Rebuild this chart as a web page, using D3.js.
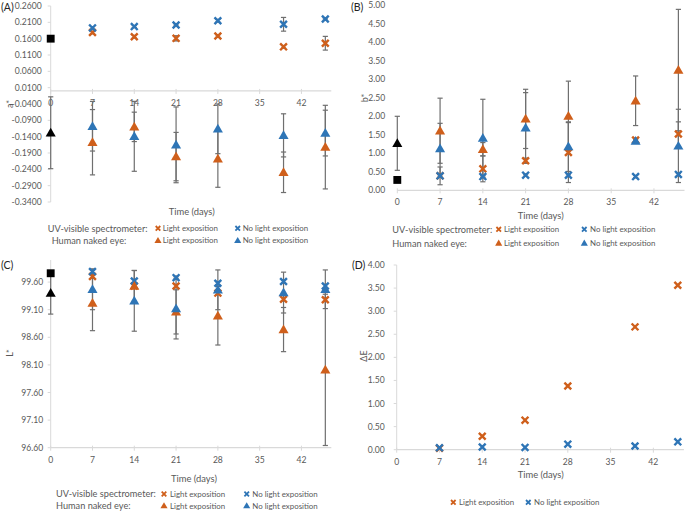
<!DOCTYPE html>
<html><head><meta charset="utf-8">
<script src="https://cdn.jsdelivr.net/npm/d3@7"></script>
<style>body{margin:0;background:#fff}svg{display:block;font-family:Lato,"Open Sans",sans-serif}</style>
</head><body><svg id="c" width="685" height="511"></svg>
<script>
// ---------- data ----------
const days = [7, 14, 21, 28, 39, 46];
const xTicks = [0, 7, 14, 21, 28, 35, 42];

// Panel A (a*)
const aTicks = [0.26, 0.21, 0.16, 0.11, 0.06, 0.01, -0.04, -0.09, -0.14, -0.19, -0.24, -0.29, -0.34];
const aUvLight = [0.179, 0.166, 0.161, 0.168, 0.135, 0.146];
const aUvLightErr = [0.004, 0.004, 0.008, 0.004, 0.004, 0.021];
const aUvNoLight = [0.193, 0.197, 0.202, 0.215, 0.204, 0.220];
const aUvNoLightErr = [0.004, 0.003, 0.003, 0.004, 0.021, 0.003];
const aEyeLight = [-0.157, -0.110, -0.201, -0.208, -0.249, -0.172];
const aEyeLightErr = [0.100, 0.045, 0.074, 0.087, 0.062, 0.128];
const aEyeNoLight = [-0.108, -0.139, -0.165, -0.116, -0.136, -0.129];
const aEyeNoLightErr = [0.076, 0.107, 0.116, 0.076, 0.066, 0.070];
const aDay0 = {uv: 0.160, eye: -0.128, eyeErr: 0.11};

// Panel B (b*)
const bTicks = [0, 0.5, 1, 1.5, 2, 2.5, 3, 3.5, 4, 4.5, 5];
const bUvLight = [0.39, 0.58, 0.80, 1.02, 1.36, 1.52];
const bUvLightErr = [0.24, 0.35, 0.07, 0.81, 0.05, 0.33];
const bUvNoLight = [0.39, 0.37, 0.41, 0.41, 0.37, 0.43];
const bUvNoLightErr = [0.03, 0.03, 0.03, 0.03, 0.03, 0.03];
const bEyeLight = [1.61, 1.11, 1.93, 2.01, 2.42, 3.25];
const bEyeLightErr = [0.88, 0.18, 0.80, 0.94, 0.67, 1.64];
const bEyeNoLight = [1.13, 1.41, 1.69, 1.18, 1.33, 1.20];
const bEyeNoLightErr = [0.68, 1.05, 0.95, 0.67, 0.05, 0.99];
const bDay0 = {uv: 0.28, eye: 1.27, eyeErr: 0.73};

// Panel C (L*)
const cTicks = [96.6, 97.1, 97.6, 98.1, 98.6, 99.1, 99.6];
const cUvLight = [99.70, 99.53, 99.53, 99.40, 99.29, 99.28];
const cUvLightErr = [0.03, 0.03, 0.03, 0.03, 0.03, 0.03];
const cUvNoLight = [99.79, 99.62, 99.68, 99.58, 99.61, 99.53];
const cUvNoLightErr = [0.03, 0.03, 0.03, 0.03, 0.03, 0.03];
const cEyeLight = [99.22, 99.53, 99.06, 98.99, 98.74, 98.01];
const cEyeLightErr = [0.50, 0.28, 0.40, 0.53, 0.40, 1.37];
const cEyeNoLight = [99.47, 99.26, 99.12, 99.46, 99.41, 99.47];
const cEyeNoLightErr = [0.37, 0.55, 0.55, 0.36, 0.37, 0.35];
const cDay0 = {uv: 99.76, eye: 99.40, eyeErr: 0.38};

// Panel D (ΔE)
const dTicks = [0, 0.5, 1, 1.5, 2, 2.5, 3, 3.5, 4];
const dLight = [0.03, 0.29, 0.64, 1.38, 2.66, 3.56];
const dNoLight = [0.04, 0.06, 0.05, 0.12, 0.08, 0.17];

// ---------- style ----------
const ORANGE = "#CF5F1B", BLUE = "#2E75B6", ERR = "#6f6f6f", AX = "#D9D9D9", TXT = "#595959";
const LEG_FS = 7.9, TITLE_FS = 9.2;

const svg = d3.select("#c");
svg.append("rect").attr("width", 685).attr("height", 511).attr("fill", "#fff");

function xMark(g, cx, cy, r, color, w) {
  g.append("path")
    .attr("d", `M${cx - r},${cy - r}L${cx + r},${cy + r}M${cx + r},${cy - r}L${cx - r},${cy + r}`)
    .attr("stroke", color).attr("stroke-width", w).attr("fill", "none");
}
function triMark(g, cx, cy, size, color) {
  g.append("path").attr("d", d3.symbol(d3.symbolTriangle, size)())
    .attr("transform", `translate(${cx},${cy + 0.8})`).attr("fill", color);
}
function errBar(g, x, y, xv, v, e) {
  const x0 = x(xv), y1 = y(v - e), y2 = y(v + e);
  g.append("line").attr("x1", x0).attr("x2", x0).attr("y1", y1).attr("y2", y2).attr("stroke", ERR).attr("stroke-width", 1.2);
  [y1, y2].forEach(yy => g.append("line").attr("x1", x0 - 2.6).attr("x2", x0 + 2.6).attr("y1", yy).attr("y2", yy).attr("stroke", ERR).attr("stroke-width", 1.2));
}

function panel(p) {
  const g = svg.append("g");
  const x = d3.scaleLinear().domain([0, 47]).range(p.xr);
  const y = d3.scaleLinear().domain(p.yd).range(p.yr);
  const fmt = v => d3.format(p.fmt)(v).replace("\u2212", "-");
  // y axis
  if (p.yLine) g.append("line").attr("x1", x(0)).attr("x2", x(0)).attr("y1", y(p.yd[1])).attr("y2", y(p.yd[0])).attr("stroke", AX).attr("stroke-width", 1);
  p.yTicks.forEach(t => {
    if (p.yLine) g.append("line").attr("x1", x(0) - 3).attr("x2", x(0)).attr("y1", y(t)).attr("y2", y(t)).attr("stroke", AX);
    g.append("text").attr("x", x(0) - p.yGap).attr("y", y(t)).attr("dy", "0.35em").attr("text-anchor", "end")
      .attr("font-size", 8.6).attr("fill", TXT).text(fmt(t));
  });
  // x axis
  const ax = y(p.xAt);
  g.append("line").attr("x1", x(0)).attr("x2", x(47)).attr("y1", ax).attr("y2", ax).attr("stroke", AX).attr("stroke-width", 1.2);
  xTicks.forEach(t => {
    g.append("line").attr("x1", x(t)).attr("x2", x(t)).attr("y1", ax - 2).attr("y2", ax + 3).attr("stroke", AX);
    g.append("text").attr("x", x(t)).attr("y", ax + 15).attr("text-anchor", "middle").attr("font-size", 8.6).attr("fill", TXT).text(t);
  });
  // titles
  g.append("text").attr("x", p.label[0]).attr("y", p.label[1]).attr("dy", "0.35em").attr("font-size", 10.5).attr("fill", "#222").text(p.name);
  g.append("text").attr("transform", `translate(${p.ytitle[0]},${p.ytitle[1]}) rotate(-90)`).attr("text-anchor", "middle").attr("dy", "0.35em")
    .attr("font-size", 9).attr("fill", TXT).text(p.yName);
  g.append("text").attr("x", p.xtitle[0]).attr("y", p.xtitle[1]).attr("dy", "0.35em").attr("text-anchor", "middle")
    .attr("font-size", 9.4).attr("fill", TXT).text("Time (days)");

  // error bars
  const series = p.series;
  if (p.day0) errBar(g, x, y, 0, p.day0.eye, p.day0.eyeErr);
  series.forEach(s => { if (s.err) s.vals.forEach((v, i) => errBar(g, x, y, days[i], v, s.err[i])); });
  // markers
  if (p.day0) {
    g.append("path").attr("d", d3.symbol(d3.symbolSquare, 62)()).attr("transform", `translate(${x(0)},${y(p.day0.uv)})`).attr("fill", "#000");
    triMark(g, x(0), y(p.day0.eye), 44, "#000");
  }
  series.forEach(s => s.vals.forEach((v, i) => {
    if (s.type === "x") xMark(g, x(days[i]), y(v), 3.4, s.color, 2.4);
    else triMark(g, x(days[i]), y(v), 44, s.color);
  }));

  // legend
  const L = p.legend;
  if (L.rows) {
    L.rows.forEach(r => {
      const ly = r.y;
      g.append("text").attr("x", r.tx).attr("y", ly).attr("dy", "0.35em").attr("font-size", TITLE_FS).attr("fill", TXT).text(r.title);
      r.items.forEach(it => {
        if (it.type === "x") xMark(g, it.mx, ly, 2.3, it.color, 1.8);
        else triMark(g, it.mx, ly - 0.5, 22, it.color);
        g.append("text").attr("x", it.tx).attr("y", ly).attr("dy", "0.35em").attr("font-size", LEG_FS).attr("fill", TXT).text(it.text);
      });
    });
  }
}

function legendRows(r1y, r2y, t1x, t2x, m1, t1, m2, t2) {
  return {rows: [
    {y: r1y, tx: t1x, title: "UV-visible spectrometer:", items: [
      {type: "x", color: ORANGE, mx: m1, tx: t1, text: "Light exposition"},
      {type: "x", color: BLUE, mx: m2, tx: t2, text: "No light exposition"}]},
    {y: r2y, tx: t2x, title: "Human naked eye:", items: [
      {type: "t", color: ORANGE, mx: m1, tx: t1, text: "Light exposition"},
      {type: "t", color: BLUE, mx: m2, tx: t2, text: "No light exposition"}]}
  ]};
}

function fourSeries(uvL, uvLE, uvN, uvNE, eyL, eyLE, eyN, eyNE) {
  return [
    {type: "x", color: ORANGE, vals: uvL, err: uvLE},
    {type: "x", color: BLUE, vals: uvN, err: uvNE},
    {type: "t", color: ORANGE, vals: eyL, err: eyLE},
    {type: "t", color: BLUE, vals: eyN, err: eyNE}
  ];
}

panel({
  name: "(A)", label: [1, 7], yName: "a*", ytitle: [10, 104], xtitle: [191.7, 211.7],
  xr: [50.7, 331.3], yd: [-0.34, 0.26], yr: [202, 6], yTicks: aTicks, fmt: ".4f", yGap: 9, yLine: true, xAt: 0,
  day0: aDay0,
  series: fourSeries(aUvLight, aUvLightErr, aUvNoLight, aUvNoLightErr, aEyeLight, aEyeLightErr, aEyeNoLight, aEyeNoLightErr),
  legend: legendRows(228.3, 240.7, 47.7, 51.7, 158, 162.7, 237.7, 242.7)
});
panel({
  name: "(B)", label: [351, 7], yName: "b*", ytitle: [365, 98], xtitle: [540.7, 215.7],
  xr: [397.3, 684.5], yd: [0, 5], yr: [190.3, 5.3], yTicks: bTicks, fmt: ".2f", yGap: 12, yLine: false, xAt: 0,
  day0: bDay0,
  series: fourSeries(bUvLight, bUvLightErr, bUvNoLight, bUvNoLightErr, bEyeLight, bEyeLightErr, bEyeNoLight, bEyeNoLightErr),
  legend: legendRows(229.3, 243.3, 392.3, 392.3, 498.7, 504, 584.3, 590)
});
panel({
  name: "(C)", label: [1, 265], yName: "L*", ytitle: [10, 353], xtitle: [194, 479],
  xr: [50.7, 331.3], yd: [96.6, 100], yr: [447.7, 260], yTicks: cTicks, fmt: ".2f", yGap: 7.5, yLine: true, xAt: 96.6,
  day0: cDay0,
  series: fourSeries(cUvLight, cUvLightErr, cUvNoLight, cUvNoLightErr, cEyeLight, cEyeLightErr, cEyeNoLight, cEyeNoLightErr),
  legend: legendRows(494, 506, 56, 56, 164, 170, 246.7, 252.3)
});
panel({
  name: "(D)", label: [352, 265], yName: "\u0394E", ytitle: [364, 356], xtitle: [540.7, 475],
  xr: [396.7, 683.9], yd: [0, 4], yr: [449.7, 265], yTicks: dTicks, fmt: ".2f", yGap: 12, yLine: true, xAt: 0,
  day0: null,
  series: [
    {type: "x", color: ORANGE, vals: dLight},
    {type: "x", color: BLUE, vals: dNoLight}
  ],
  legend: {rows: null}
});
// Legend D (single row)
(function () {
  const g = svg.append("g");
  const ly = 502.3;
  [{c: ORANGE, mx: 453.3, tx: 459, t: "Light exposition"}, {c: BLUE, mx: 528.3, tx: 534, t: "No light exposition"}].forEach(it => {
    xMark(g, it.mx, ly, 2.3, it.c, 1.8);
    g.append("text").attr("x", it.tx).attr("y", ly).attr("dy", "0.35em").attr("font-size", LEG_FS).attr("fill", TXT).text(it.t);
  });
})();
</script></body></html>
